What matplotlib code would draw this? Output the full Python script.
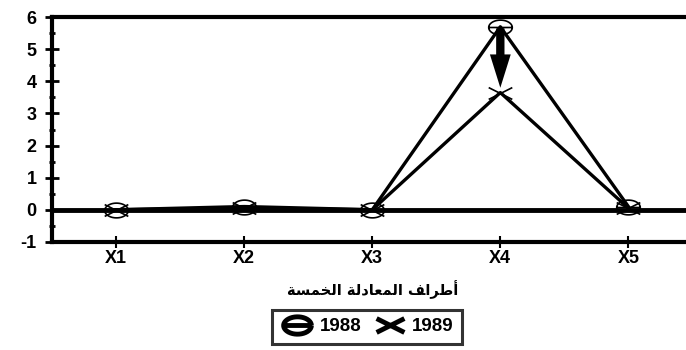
import numpy as np
import matplotlib.pyplot as plt
from matplotlib.path import Path

# Data
categories = ['X1', 'X2', 'X3', 'X4', 'X5']
values_1988 = [0.0, 0.1, 0.0, 5.7, 0.1]
values_1989 = [0.0, 0.05, 0.0, 3.65, 0.05]
years = ['1988', '1989']
y_ticks = [-1, 0, 1, 2, 3, 4, 5, 6]

# Arabic label written in presentation forms, visual order (matplotlib does no shaping)
xlabel_ar = ('\uFE94\uFEB4\uFEE4\uFEA8\uFEDF\uFE8D' + ' ' +
             '\uFE94\uFEDF\uFEA9\uFE8E\uFECC\uFEE4\uFEDF\uFE8D' + ' ' +
             '\uFED2\uFE8D\uFEAE\uFEC3\uFE83')

# Custom markers: wide ellipse with a bar, and a wide cross
t = np.linspace(0, 2 * np.pi, 40)
ell_verts = list(zip(1.6 * np.cos(t), np.sin(t)))
ell_codes = [Path.MOVETO] + [Path.LINETO] * (len(ell_verts) - 1)
ell_verts += [(-1.6, 0), (1.6, 0)]
ell_codes += [Path.MOVETO, Path.LINETO]
ellipse_marker = Path(ell_verts, ell_codes)

cross_marker = Path([(-1.6, -0.8), (1.6, 0.8), (-1.6, 0.8), (1.6, -0.8)],
                    [Path.MOVETO, Path.LINETO, Path.MOVETO, Path.LINETO])

plt.rcParams['font.family'] = ['Liberation Sans', 'DejaVu Sans']
plt.rcParams['font.weight'] = 'bold'

fig = plt.figure(figsize=(6.86, 3.5), dpi=100)
ax = fig.add_axes([0.076, 0.309, 0.924, 0.642])

x = np.arange(1, len(categories) + 1)
ax.plot(x, values_1988, color='black', linewidth=2.4, marker=ellipse_marker,
        markersize=17, markerfacecolor='none', markeredgewidth=1.2, label=years[0])
ax.plot(x, values_1989, color='black', linewidth=2.4, marker=cross_marker,
        markersize=17, markeredgewidth=1.2, label=years[1])

ax.axhline(0, color='black', linewidth=3.5, zorder=1)

# arrow from the 1988 value down to the 1989 value at X4
ax.annotate('', xy=(4, values_1989[3] + 0.15), xytext=(4, values_1988[3] - 0.05),
            arrowprops=dict(arrowstyle='simple,head_length=1.2,head_width=0.75,tail_width=0.3',
                            color='black', linewidth=0, mutation_scale=20,
                            shrinkA=0, shrinkB=0))

ax.set_xlim(0.5, 5.45)
ax.set_ylim(-1, 6)
ax.set_xticks(x)
ax.set_xticklabels(categories, fontsize=13, fontweight='bold')
ax.set_yticks(y_ticks)
ax.set_yticklabels([str(v) for v in y_ticks], fontsize=13, fontweight='bold')
ax.set_yticks(np.arange(-1, 6.01, 0.5), minor=True)

ax.spines['right'].set_visible(False)
for s in ['left', 'top', 'bottom']:
    ax.spines[s].set_linewidth(3)
ax.tick_params(axis='y', which='major', direction='inout', length=10, width=2, pad=6)
ax.tick_params(axis='y', which='minor', direction='inout', length=5, width=2)
ax.tick_params(axis='x', which='major', direction='inout', length=8, width=1.5, pad=2)

fig.text(0.543, 0.172, xlabel_ar, ha='center', va='center', fontsize=10.5,
         fontweight='bold', family='DejaVu Sans')

leg = fig.legend(loc='center', bbox_to_anchor=(0.535, 0.066), ncol=2, frameon=True,
                 fancybox=False, edgecolor='black', fontsize=13.5, handlelength=1.8,
                 columnspacing=0.6, handletextpad=0.3, borderpad=0.45)
leg.get_frame().set_linewidth(2.2)
for h in leg.legend_handles:
    h.set_linewidth(0)
    h.set_markersize(20)
    h.set_markeredgewidth(3.5)

fig.savefig('out.png', dpi=100)
